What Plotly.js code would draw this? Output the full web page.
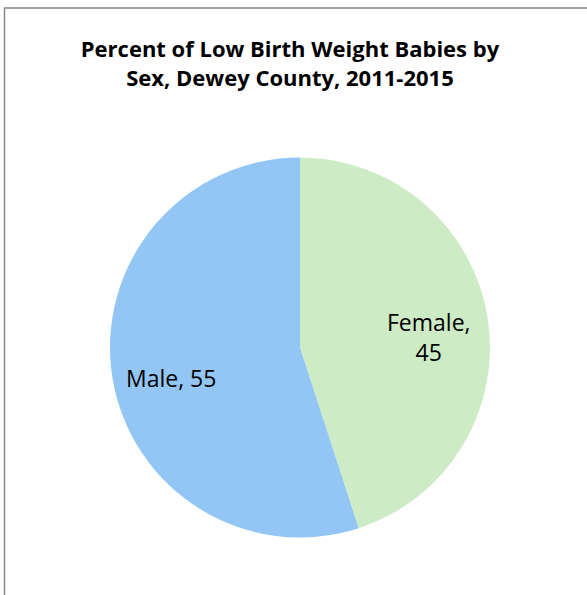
<!DOCTYPE html>
<html><head><meta charset="utf-8">
<script src="https://cdn.plot.ly/plotly-3.0.1.min.js"></script>
<style>html,body{margin:0;padding:0;background:#fff}</style>
</head><body><div id="chart" style="width:587px;height:595px"></div>
<script>
const categories = ["Female", "Male"];
const values = [45, 55];
const colors = ["#CDEBC4", "#93C6F5"];
const labelTexts = ["Female,<br>45", "Male, 55"];

const W = 587, H = 595;
const cx = 300, cy = 347.5, R = 190;
const dom = {x: [(cx - R)/W, (cx + R)/W], y: [1 - (cy + R)/H, 1 - (cy - R)/H]};

const trace = {
  type: "pie",
  labels: categories,
  values: values,
  sort: false,
  direction: "clockwise",
  rotation: 0,
  marker: {colors: colors, line: {width: 0}},
  textinfo: "none",
  hoverinfo: "none",
  showlegend: false,
  domain: dom
};

// label positions from data: mid-angle of each slice, 0.69 of radius
const total = values.reduce((a, b) => a + b, 0);
let acc = 0;
const annotations = values.map((v, i) => {
  const mid = (acc + v / 2) / total * 2 * Math.PI;
  acc += v;
  const px = cx + 0.69 * R * Math.sin(mid);
  const py = cy - 0.69 * R * Math.cos(mid) + 10;
  return {
    x: px / W, y: 1 - py / H, xref: "paper", yref: "paper",
    text: labelTexts[i], showarrow: false, xanchor: "center", yanchor: "middle",
    font: {family: "'Open Sans', sans-serif", size: 23, color: "#000"}
  };
});

const layout = {
  width: W, height: H,
  margin: {l: 0, r: 0, t: 0, b: 0},
  paper_bgcolor: "#fff",
  showlegend: false,
  title: {
    text: "<b>Percent of Low Birth Weight Babies by<br>Sex, Dewey County, 2011-2015</b>",
    font: {family: "'Open Sans', sans-serif", size: 22, color: "#000"},
    x: 290/W, xanchor: "center",
    y: 1 - 57/H, yanchor: "middle"
  },
  annotations: annotations,
  shapes: [{
    type: "rect", xref: "paper", yref: "paper",
    x0: 4.5/W, x1: 1.05, y0: -0.05, y1: 1 - 8/H,
    line: {color: "#888888", width: 1.5}
  }]
};

Plotly.newPlot("chart", [trace], layout, {displayModeBar: false, staticPlot: true});
</script></body></html>
